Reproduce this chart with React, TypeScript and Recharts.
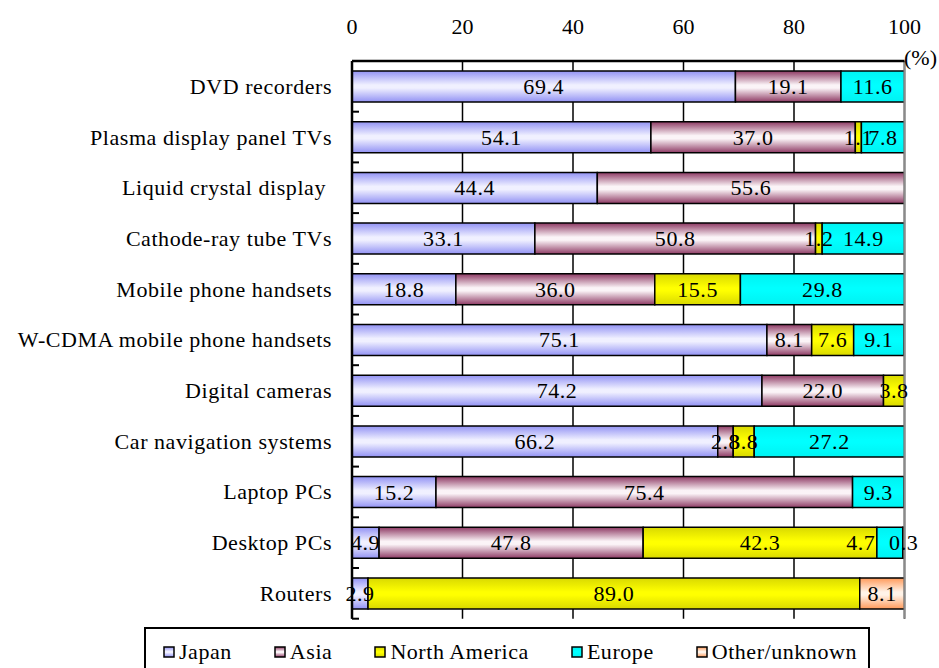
import React from 'react';
import { BarChart, Bar, XAxis, YAxis, CartesianGrid, LabelList, Legend, ReferenceLine } from 'recharts';

// Share of production by region, per product (%)
const categories = [
  'DVD recorders',
  'Plasma display panel TVs',
  'Liquid crystal display ',
  'Cathode-ray tube TVs',
  'Mobile phone handsets',
  'W-CDMA mobile phone handsets',
  'Digital cameras',
  'Car navigation systems',
  'Laptop PCs',
  'Desktop PCs',
  'Routers',
];

const japan = [69.4, 54.1, 44.4, 33.1, 18.8, 75.1, 74.2, 66.2, 15.2, 4.9, 2.9];
const asia = [19.1, 37.0, 55.6, 50.8, 36.0, 8.1, 22.0, 2.8, 75.4, 47.8, null];
const northAmerica = [null, 1.1, null, 1.2, 15.5, 7.6, 3.8, 3.8, null, 42.3, 89.0];
const europe = [11.6, 7.8, null, 14.9, 29.8, 9.1, null, 27.2, 9.3, 4.7, null];
const other = [null, null, null, null, null, null, null, null, null, 0.3, 8.1];

const xTicks = [0, 20, 40, 60, 80, 100];

const seriesNames = ['Japan', 'Asia', 'North America', 'Europe', 'Other/unknown'];
const seriesKeys = ['japan', 'asia', 'northAmerica', 'europe', 'other'];

const data = categories.map((name, i) => ({
  name,
  japan: japan[i],
  asia: asia[i],
  northAmerica: northAmerica[i],
  europe: europe[i],
  other: other[i],
}));

// ---- layout ----
const W = 939;
const H = 668;
const MARGIN = { top: 0, right: 34.5, bottom: 49.3, left: 0 };
const TOP_AXIS_H = 61;
const Y_AXIS_W = 352;
const Y_TICK_MARGIN = 20;
const PLOT_H = H - MARGIN.top - MARGIN.bottom - TOP_AXIS_H;
const HALF_BAND = PLOT_H / categories.length / 2;

const FONT = '"Liberation Serif", "DejaVu Serif", "Noto Serif", Tinos, "Times New Roman", serif';
const FONT_SIZE = 22;
const SPACING = 0.55;

const gradients: Record<string, { edge: string; mid: string }> = {
  japan: { edge: '#9292f4', mid: '#f0f0ff' },
  asia: { edge: '#8e3a64', mid: '#fbf4f7' },
  northAmerica: { edge: '#d9d900', mid: '#ffff00' },
  europe: { edge: '#00f2f2', mid: '#00ffff' },
  other: { edge: '#ff9a5a', mid: '#fff3e8' },
};

// Labels that would collide get shifted sideways (px)
const labelShift: Record<string, number> = {
  'Desktop PCs|europe': -29,
};

// label value carries its category so a shift can be looked up
const labelKey = (k: string) => (d: any) => (d[k] === null || d[k] === undefined ? null : `${d.name}|${d[k]}`);

const makeLabel = (key: string) => (props: any) => {
  const { x, y, width, height, value } = props;
  if (value === null || value === undefined || value === '') return null;
  const s = String(value);
  const sep = s.lastIndexOf('|');
  const cat = sep >= 0 ? s.slice(0, sep) : '';
  const num = Number(sep >= 0 ? s.slice(sep + 1) : s);
  const shift = labelShift[`${cat}|${key}`] ?? 0;
  return (
    <text
      x={Number(x) + Number(width) / 2 + shift}
      y={Number(y) + Number(height) / 2}
      dy="0.34em"
      textAnchor="middle"
      fontFamily={FONT}
      fontSize={FONT_SIZE}
      letterSpacing={SPACING}
      fill="#000"
    >
      {num.toFixed(1)}
    </text>
  );
};

const CategoryTick = (props: any) => {
  const { x, y, payload, index } = props;
  const axisX = x + Y_TICK_MARGIN;
  return (
    <g>
      <text
        x={x}
        y={y}
        dy="0.34em"
        textAnchor="end"
        fontFamily={FONT}
        fontSize={FONT_SIZE}
        letterSpacing={SPACING}
        fill="#000"
        style={{ whiteSpace: 'pre' }}
      >
        {payload.value}
      </text>
      <line x1={axisX} x2={axisX + 7} y1={y + HALF_BAND} y2={y + HALF_BAND} stroke="#000" strokeWidth={2} />
      {index === 0 && (
        <line x1={axisX} x2={axisX + 7} y1={y - HALF_BAND} y2={y - HALF_BAND} stroke="#000" strokeWidth={2} />
      )}
    </g>
  );
};

const PercentLabel = (props: any) => {
  const vb = props.viewBox || {};
  return (
    <text
      x={vb.x + vb.width + 16}
      y={vb.y + vb.height + 4}
      textAnchor="middle"
      fontFamily={FONT}
      fontSize={FONT_SIZE}
      fill="#000"
    >
      (%)
    </text>
  );
};

const LegendBox = () => (
  <div
    style={{
      boxSizing: 'border-box',
      width: 726,
      height: 48,
      border: '2px solid #000',
      borderBottom: 'none',
      background: '#fff',
      display: 'flex',
      alignItems: 'center',
      paddingLeft: 17,
      gap: 42,
      fontFamily: FONT,
      fontSize: FONT_SIZE,
      letterSpacing: SPACING,
      color: '#000',
      whiteSpace: 'nowrap',
    }}
  >
    {seriesKeys.map((k, i) => (
      <div key={k} style={{ display: 'flex', alignItems: 'center' }}>
        <svg width={12} height={12} style={{ display: 'block' }}>
          <rect x={1} y={1} width={10} height={10} fill={`url(#grad-${k})`} stroke="#000" strokeWidth={1.5} />
        </svg>
        <span style={{ marginLeft: 4 }}>{seriesNames[i]}</span>
      </div>
    ))}
  </div>
);

export default function App() {
  return (
    <div style={{ position: 'absolute', left: 0, top: 0, width: W, height: H, background: '#fff' }}>
      <BarChart width={W} height={H} data={data} layout="vertical" margin={MARGIN} barSize={31}>
        <defs>
          {seriesKeys.map((k) => (
            <linearGradient key={k} id={`grad-${k}`} x1="0" y1="0" x2="0" y2="1">
              <stop offset="0%" stopColor={gradients[k].edge} />
              <stop offset="45%" stopColor={gradients[k].mid} />
              <stop offset="55%" stopColor={gradients[k].mid} />
              <stop offset="100%" stopColor={gradients[k].edge} />
            </linearGradient>
          ))}
        </defs>
        <CartesianGrid horizontal={false} vertical stroke="#000" strokeWidth={1.5} />
        <XAxis
          type="number"
          orientation="top"
          domain={[0, 100]}
          ticks={xTicks}
          allowDataOverflow
          height={TOP_AXIS_H}
          tickLine={false}
          tickSize={0}
          tickMargin={27}
          axisLine={{ stroke: '#000', strokeWidth: 2.5 }}
          tick={{ fontFamily: FONT, fontSize: FONT_SIZE, fill: '#000' }}
          interval={0}
          label={<PercentLabel />}
        />
        <XAxis
          xAxisId="bottom"
          type="number"
          orientation="bottom"
          domain={[0, 100]}
          height={0}
          tick={false}
          tickLine={false}
          axisLine={{ stroke: '#8a8a8a', strokeWidth: 2 }}
        />
        <YAxis
          type="category"
          dataKey="name"
          width={Y_AXIS_W}
          tickLine={false}
          tickSize={0}
          tickMargin={Y_TICK_MARGIN}
          interval={0}
          axisLine={{ stroke: '#000', strokeWidth: 2.5 }}
          tick={<CategoryTick />}
        />
        {seriesKeys.map((k, i) => (
          <Bar
            key={k}
            dataKey={k}
            name={seriesNames[i]}
            stackId="share"
            fill={`url(#grad-${k})`}
            stroke="#000"
            strokeWidth={1.5}
            isAnimationActive={false}
          >
            <LabelList dataKey={labelKey(k)} content={makeLabel(k)} />
          </Bar>
        ))}
        <ReferenceLine x={100} stroke="#8a8a8a" strokeWidth={2} />
        <Legend
          layout="horizontal"
          verticalAlign="middle"
          content={<LegendBox />}
          wrapperStyle={{ position: 'absolute', left: 144, top: 627, width: 726, height: 48 }}
        />
      </BarChart>
    </div>
  );
}
